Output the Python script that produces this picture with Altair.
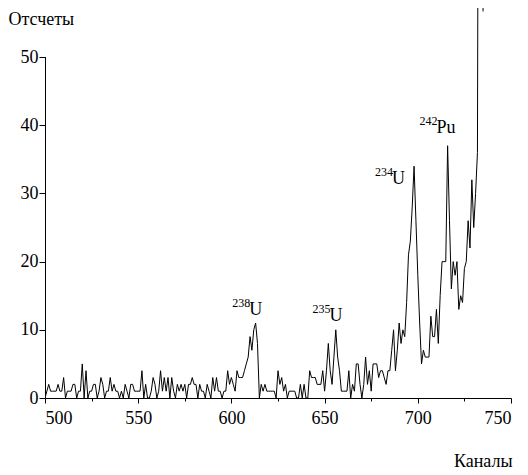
import altair as alt
import pandas as pd

# Spectrum: counts per channel starting at channel 499
counts = [
    1, 0, 1, 2, 1, 1, 1, 1, 2, 1,
    1, 3, 0, 1, 1, 1, 2, 2, 0, 1,
    1, 5, 0, 4, 0, 1, 1, 2, 2, 0,
    1, 3, 2, 0, 1, 1, 3, 1, 2, 1,
    1, 0, 1, 0, 2, 1, 0, 2, 2, 1,
    1, 1, 1, 4, 0, 2, 0, 0, 1, 3,
    2, 0, 1, 4, 1, 3, 1, 3, 0, 3,
    1, 0, 2, 1, 2, 1, 2, 0, 2, 2,
    3, 2, 2, 0, 2, 1, 1, 0, 2, 1,
    0, 3, 1, 3, 1, 1, 0, 1, 1, 4,
    2, 3, 2, 1, 4, 3, 3, 3, 4, 5,
    6, 9, 7, 10, 11, 8, 0, 2, 1, 2,
    1, 1, 1, 1, 1, 0, 4, 2, 3, 1,
    2, 0, 1, 1, 1, 1, 0, 0, 2, 0,
    2, 0, 0, 4, 3, 3, 3, 2, 2, 2,
    4, 1, 4, 8, 4, 2, 6, 10, 6, 4,
    1, 1, 1, 1, 4, 0, 2, 1, 5, 5,
    2, 0, 2, 6, 2, 4, 1, 5, 5, 5,
    3, 4, 4, 3, 2, 4, 4, 7, 10, 4,
    7, 11, 8, 10, 9, 14, 21, 23, 28, 34,
    26, 18, 11, 5, 7, 6, 6, 6, 12, 9,
    9, 13, 8, 15, 20, 20, 20, 37, 26, 16,
    20, 18, 20, 13, 15, 14, 19, 20, 26, 22,
    32, 25, 30, 36, 150, 150, 56.7,
]
first_channel = 499
channels = list(range(first_channel, first_channel + len(counts)))

# Peak annotations
ann_channel = [609.6, 652.6, 686.2, 710.0]
ann_count = [12.2, 11.3, 31.4, 38.8]
ann_mass = ["238", "235", "234", "242"]
ann_symbol = ["U", "U", "U", "Pu"]

x_ticks = [500, 525, 550, 575, 600, 625, 650, 675, 700, 725, 750]
y_ticks = [0, 5, 10, 15, 20, 25, 30, 35, 40, 45, 50]
x_domain = [500, 750]
y_domain = [0, 57.2]
y_axis_top = 50

FONT = "Liberation Serif"

spec = pd.DataFrame({"ch": channels, "cnt": counts})
ann = pd.DataFrame({"ch": ann_channel, "cnt": ann_count,
                    "mass": ann_mass, "sym": ann_symbol})

xscale = alt.Scale(domain=x_domain, nice=False, zero=False)
yscale = alt.Scale(domain=y_domain, nice=False)

line = alt.Chart(spec).mark_line(color="black", strokeWidth=1, clip=True).encode(
    x=alt.X("ch:Q", scale=xscale, title="Каналы",
            axis=alt.Axis(values=x_ticks,
                          labelExpr="datum.value % 50 === 0 ? datum.label : ''")),
    y=alt.Y("cnt:Q", scale=yscale, title="Отсчеты",
            axis=alt.Axis(values=y_ticks,
                          labelExpr="datum.value % 10 === 0 ? datum.label : ''")),
)

yline = alt.Chart(spec).mark_rule(color="black", strokeWidth=1, xOffset=0.5).encode(
    x=alt.datum(x_domain[0]),
    y=alt.datum(0),
    y2=alt.datum(y_axis_top),
)

sym = alt.Chart(ann).mark_text(
    font=FONT, fontSize=18, color="black", align="left", baseline="alphabetic"
).encode(x="ch:Q", y="cnt:Q", text="sym:N")

mass = alt.Chart(ann).mark_text(
    font=FONT, fontSize=12, color="black", align="right", baseline="alphabetic", dx=1, dy=-8
).encode(x="ch:Q", y="cnt:Q", text="mass:N")

chart = alt.layer(line, yline, mass, sym).properties(
    width=466, height=390,
    padding={"left": 45, "top": 8, "right": 17, "bottom": 77},
    autosize=alt.AutoSizeParams(type="none"),
    background="white",
).configure(font=FONT).configure_view(stroke=None).configure_axis(
    grid=False, tickColor="black", domainColor="black",
    labelColor="black", labelFont=FONT, labelFontSize=18,
    titleColor="black", titleFont=FONT, titleFontSize=18, titleFontWeight="normal",
    titleBaseline="alphabetic",
).configure_axisX(
    tickSize={"condition": {"test": "datum.value % 50 !== 0", "value": 3}, "value": 5},
    labelPadding=6, titleAlign="right", titleX=467, titleY=68,
).configure_axisY(
    domain=False,
    tickSize={"condition": {"test": "datum.value % 10 !== 0", "value": 3}, "value": 6},
    labelPadding=1, titleAngle=0, titleAlign="left", titleX=-37, titleY=16,
)

chart.save("out.html", embed_options={"renderer": "svg", "actions": False})
